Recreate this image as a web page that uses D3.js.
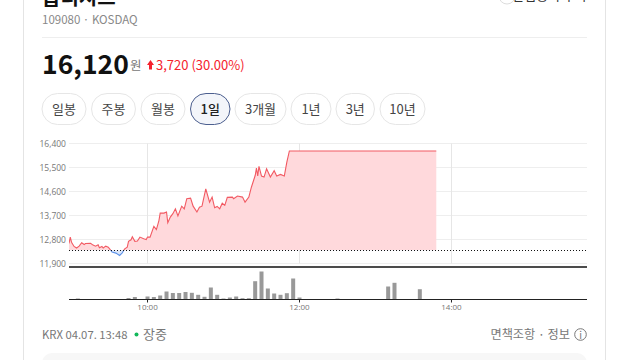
<!DOCTYPE html>
<html>
<head>
<meta charset="utf-8">
<style>
  html, body { margin: 0; padding: 0; background: #fff; overflow: hidden; }
  text { font-family: "Noto Sans CJK KR", "Noto Sans", sans-serif; }
  .price-axis text, .time-axis text { font-family: "Open Sans", "Noto Sans", sans-serif; }
</style>
<script src="https://cdn.jsdelivr.net/npm/d3@7"></script>
</head>
<body>
<div id="chart-area"></div>
<script>
const prevClose = 12400

const priceTicks = [16400, 15500, 14600, 13700, 12800, 11900]
const timeTicks = ['10:00', '12:00', '14:00']
const periods = ['일봉', '주봉', '월봉', '1일', '3개월', '1년', '3년', '10년']
const activePeriod = '1일'

const priceTimes = [
  '08:58', '08:59', '09:00', '09:02', '09:04', '09:06', '09:08', '09:10', '09:11', '09:15',
  '09:17', '09:19', '09:21', '09:22', '09:24', '09:25', '09:27', '09:29', '09:31', '09:32',
  '09:35', '09:38', '09:40', '09:42', '09:44', '09:45', '09:47', '09:48', '09:50', '09:52',
  '09:54', '09:57', '09:59', '10:00', '10:02', '10:05', '10:07', '10:09', '10:10', '10:13',
  '10:15', '10:16', '10:18', '10:20', '10:22', '10:24', '10:27', '10:29', '10:31', '10:34',
  '10:36', '10:39', '10:41', '10:43', '10:46', '10:49', '10:51', '10:53', '10:55', '10:57',
  '10:59', '11:01', '11:03', '11:07', '11:08', '11:11', '11:15', '11:17', '11:20', '11:22',
  '11:25', '11:26', '11:27', '11:28', '11:30', '11:32', '11:34', '11:35', '11:37', '11:40',
  '11:42', '11:45', '11:48', '11:50', '11:52', '13:48'
]
const priceValues = [
  12650, 12890, 12700, 12540, 12480, 12550, 12680, 12610, 12650, 12660,
  12590, 12550, 12600, 12490, 12540, 12480, 12550, 12510, 12390, 12330,
  12290, 12200, 12300, 12450, 12510, 12730, 12790, 12900, 12730, 12740,
  12890, 12830, 12800, 12890, 12890, 13290, 13170, 13510, 13790, 13790,
  13830, 13430, 13640, 13770, 13950, 13680, 14050, 13950, 14330, 14350,
  14050, 13830, 14010, 14050, 14700, 14200, 14390, 13990, 14040, 13950,
  14160, 14080, 14380, 14390, 14330, 14430, 14390, 14200, 14390, 14760,
  15200, 15480, 15180, 15540, 15180, 15140, 15450, 15350, 15140, 15380,
  15180, 15240, 15180, 15700, 16120, 16120
]

const volumeTimes = [
  '09:05', '09:25', '09:35', '09:45', '09:50', '09:55', '10:00', '10:05', '10:10', '10:15',
  '10:20', '10:25', '10:30', '10:35', '10:40', '10:45', '10:50', '10:55', '11:00', '11:05',
  '11:10', '11:15', '11:20', '11:25', '11:30', '11:35', '11:40', '11:45', '11:50', '11:55',
  '12:00', '12:05', '12:30', '13:05', '13:10', '13:15', '13:20', '13:35', '13:40'
]
// relative heights, the chart has no volume axis
const volumeValues = [
  10, 3, 3, 15, 25, 4, 30, 25, 40, 80,
  65, 65, 75, 67, 47, 27, 120, 47, 10, 20,
  30, 13, 13, 183, 280, 110, 60, 47, 63, 210,
  20, 3, 10, 4, 130, 167, 3, 103, 3
]

const width = 640
const height = 360
const chartLeft = 69
const chartRight = 587

const parseTime = d3.timeParse('%H:%M')

const svg = d3.select('#chart-area')
  .append('svg')
    .attr('width', width)
    .attr('height', height)
    .style('display', 'block')

// card
svg.append('rect')
  .attr('x', 23.5).attr('y', -20)
  .attr('width', 582).attr('height', 420)
  .attr('fill', '#fff')
  .attr('stroke', '#e4e4e4')

svg.append('rect')
  .attr('x', 42).attr('y', 353)
  .attr('width', 545).attr('height', 40)
  .attr('rx', 10)
  .attr('fill', '#f7f7f7')

svg.append('line')
  .attr('x1', 42).attr('x2', 587)
  .attr('y1', 37.5).attr('y2', 37.5)
  .attr('stroke', '#eeeeee')

// header
svg.append('text')
  .attr('x', 42).attr('y', 5)
  .attr('font-size', 20).attr('font-weight', 700)
  .attr('fill', '#111')
  .text('옵티시스')

svg.append('text')
  .attr('x', 42).attr('y', 24)
  .attr('font-size', 11.5)
  .attr('fill', '#888')
  .text('109080 · KOSDAQ')

svg.append('circle')
  .attr('cx', 507).attr('cy', -4).attr('r', 8)
  .attr('fill', '#fff').attr('stroke', '#ddd')

svg.append('text')
  .attr('x', 587).attr('y', 0)
  .attr('text-anchor', 'end')
  .attr('font-size', 13)
  .attr('fill', '#333')
  .text('관심종목 추가')

svg.append('text')
  .attr('x', 42).attr('y', 74)
  .attr('font-size', 26.5).attr('font-weight', 700)
  .attr('fill', '#111')
  .text('16,120')

svg.append('text')
  .attr('x', 130).attr('y', 70)
  .attr('font-size', 12.5)
  .attr('fill', '#777')
  .text('원')

svg.append('path')
  .attr('d', 'M150.5 60 L154 65 L152 65 L152 69.5 L149 69.5 L149 65 L147 65 Z')
  .attr('fill', '#f5222d')

svg.append('text')
  .attr('x', 156).attr('y', 70)
  .attr('font-size', 13)
  .attr('fill', '#f5222d')
  .text('3,720 (30.00%)')

// period buttons
const buttonEdges = [[42, 86], [91.5, 135.5], [141, 185], [190.5, 230], [235, 286], [291, 331], [336, 374.5], [380, 425]]

const buttons = svg.append('g').selectAll('g')
  .data(periods)
  .enter().append('g')
    .attr('transform', (d, i) => `translate(${buttonEdges[i][0]}, 93.5)`)

buttons.append('rect')
  .attr('width', (d, i) => buttonEdges[i][1] - buttonEdges[i][0])
  .attr('height', 31)
  .attr('rx', 15.5)
  .attr('fill', d => d === activePeriod ? '#f3f5fa' : '#fff')
  .attr('stroke', d => d === activePeriod ? '#4c5f8f' : '#e6e6e6')

buttons.append('text')
  .attr('x', (d, i) => (buttonEdges[i][1] - buttonEdges[i][0]) / 2)
  .attr('y', 20.5)
  .attr('text-anchor', 'middle')
  .attr('font-size', 13)
  .attr('font-weight', d => d === activePeriod ? 500 : 400)
  .attr('fill', d => d === activePeriod ? '#222' : '#444')
  .text(d => d)

// scales
const scaleX = d3.scaleTime()
  .domain([parseTime('08:58'), parseTime('15:47')])
  .range([chartLeft, chartRight])

const scaleY = d3.scaleLinear()
  .domain([11900, 16400])
  .range([263.5, 143.5])

const scaleVolume = d3.scaleLinear()
  .domain([0, 320])
  .range([299.5, 267.5])

const prices = priceTimes.map((t, i) => ({ time: parseTime(t), value: priceValues[i] }))
const volumes = volumeTimes.map((t, i) => ({ time: parseTime(t), value: volumeValues[i] }))

// grid
const grid = svg.append('g').attr('fill', 'none').attr('stroke', '#eeeeee')

grid.selectAll('line.h')
  .data(priceTicks)
  .enter().append('line')
    .attr('class', 'h')
    .attr('x1', chartLeft).attr('x2', chartRight)
    .attr('y1', d => scaleY(d)).attr('y2', d => scaleY(d))

grid.selectAll('line.v')
  .data(timeTicks)
  .enter().append('line')
    .attr('class', 'v')
    .attr('x1', d => Math.floor(scaleX(parseTime(d))) + 0.5)
    .attr('x2', d => Math.floor(scaleX(parseTime(d))) + 0.5)
    .attr('y1', 143.5).attr('y2', 263.5)
    .attr('stroke', '#e6e6e6')

// area and line split at previous close
const baseY = scaleY(prevClose)

const defs = svg.append('defs')
defs.append('clipPath').attr('id', 'clip-up')
  .append('rect')
    .attr('x', chartLeft).attr('y', 143)
    .attr('width', chartRight - chartLeft).attr('height', baseY - 143)
defs.append('clipPath').attr('id', 'clip-down')
  .append('rect')
    .attr('x', chartLeft).attr('y', baseY)
    .attr('width', chartRight - chartLeft).attr('height', 263 - baseY)

const area = d3.area()
  .x(d => scaleX(d.time))
  .y0(baseY)
  .y1(d => scaleY(d.value))

const line = d3.line()
  .x(d => scaleX(d.time))
  .y(d => scaleY(d.value))

const sides = [
  { clip: 'clip-up', fill: '#ffd9dc', stroke: '#f25a63' },
  { clip: 'clip-down', fill: '#dce8fb', stroke: '#5f93ea' }
]

sides.forEach(side => {
  const g = svg.append('g').attr('clip-path', `url(#${side.clip})`)
  g.append('path')
    .attr('d', area(prices))
    .attr('fill', side.fill)
  g.append('path')
    .attr('d', line(prices))
    .attr('fill', 'none')
    .attr('stroke', side.stroke)
    .attr('stroke-width', 1.1)
})

svg.append('line')
  .attr('x1', chartLeft).attr('x2', chartRight)
  .attr('y1', Math.round(baseY) + 0.5).attr('y2', Math.round(baseY) + 0.5)
  .attr('stroke', '#111')
  .attr('stroke-dasharray', '1,2')

// price axis
const priceAxis = d3.axisLeft(scaleY)
  .tickValues(priceTicks)
  .tickSize(0)
  .tickPadding(3)
  .tickFormat(d3.format(','))

svg.append('g')
  .attr('class', 'price-axis')
  .attr('transform', `translate(${chartLeft}, 0)`)
  .call(priceAxis)
  .call(g => g.select('.domain').remove())
  .call(g => g.selectAll('text').attr('font-size', 8.5).attr('fill', '#777'))

// volume
svg.append('line')
  .attr('x1', chartLeft).attr('x2', chartRight)
  .attr('y1', 267).attr('y2', 267)
  .attr('stroke', '#111')
  .attr('stroke-width', 1.5)

svg.append('g').selectAll('rect')
  .data(volumes)
  .enter().append('rect')
    .attr('x', d => scaleX(d.time) - 2)
    .attr('y', d => scaleVolume(d.value))
    .attr('width', 4)
    .attr('height', d => scaleVolume(0) - scaleVolume(d.value))
    .attr('fill', '#999')

const timeAxis = d3.axisBottom(scaleX)
  .tickValues(timeTicks.map(parseTime))
  .tickSize(3)
  .tickPadding(2)
  .offset(0)
  .tickFormat(d3.timeFormat('%H:%M'))

svg.append('g')
  .attr('class', 'time-axis')
  .attr('transform', 'translate(0, 299.5)')
  .call(timeAxis)
  .call(g => g.select('.domain').attr('stroke', '#222').attr('d', `M${chartLeft},0H${chartRight}`))
  .call(g => g.selectAll('.tick line').attr('stroke', '#222'))
  .call(g => g.selectAll('text').attr('font-size', 8).attr('fill', '#777'))

// footer
svg.append('text')
  .attr('x', 42).attr('y', 339)
  .attr('font-size', 11.3)
  .attr('fill', '#777')
  .text('KRX 04.07. 13:48')

svg.append('circle')
  .attr('cx', 136.5).attr('cy', 334.5).attr('r', 2)
  .attr('fill', '#12b85a')

svg.append('text')
  .attr('x', 143).attr('y', 339)
  .attr('font-size', 13)
  .attr('fill', '#777')
  .text('장중')

svg.append('text')
  .attr('x', 570).attr('y', 339)
  .attr('text-anchor', 'end')
  .attr('font-size', 12.2)
  .attr('fill', '#777')
  .text('면책조항 · 정보')

svg.append('circle')
  .attr('cx', 580.5).attr('cy', 334.5).attr('r', 5.8)
  .attr('fill', 'none')
  .attr('stroke', '#777')

svg.append('text')
  .attr('x', 580.5).attr('y', 338.5)
  .attr('text-anchor', 'middle')
  .attr('font-size', 10)
  .attr('fill', '#777')
  .text('i')
</script>
</body>
</html>
